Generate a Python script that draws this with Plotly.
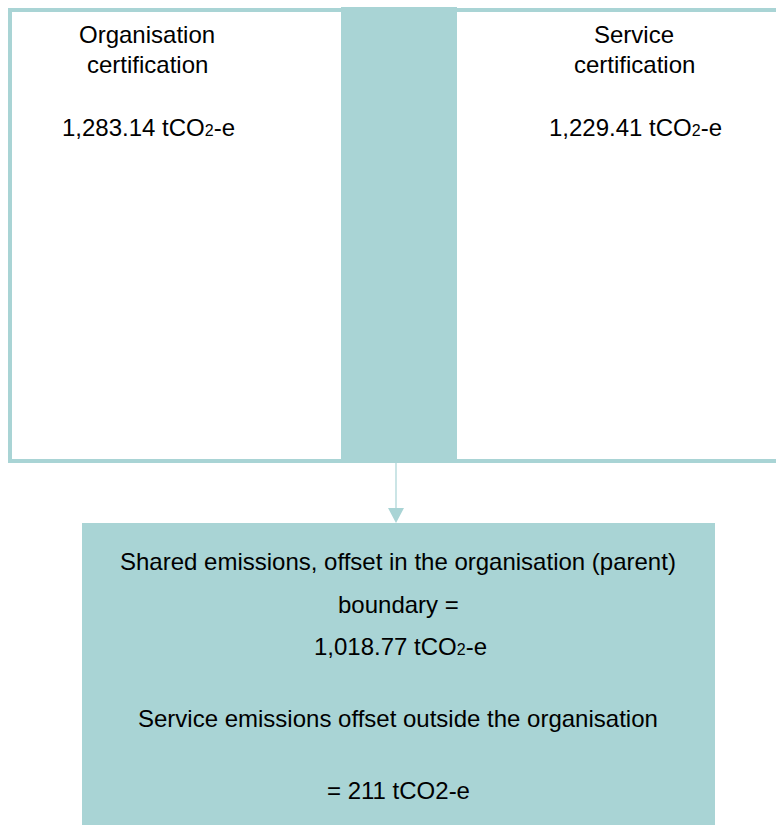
import plotly.graph_objects as go

# ---- data ----
cert_lines = [["Organisation", "certification"], ["Service", "certification"]]
cert_values = ["1,283.14", "1,229.41"]
shared_value = "1,018.77"
outside_value = "211"
unit_sub = "tCO<span style=\"font-size:16px\">2</span>-e"
unit_plain = "tCO2-e"

TEAL = "#A9D4D5"
FONT = dict(family="Arial, Liberation Sans, sans-serif", size=24, color="#000000")

W, H = 776, 825
fig = go.Figure()

shapes = []
# left and right certification boxes (outlined)
shapes.append(dict(type="rect", x0=10, x1=345, y0=10, y1=461,
                   line=dict(color=TEAL, width=4), fillcolor="rgba(0,0,0,0)", layer="below"))
shapes.append(dict(type="rect", x0=455, x1=800, y0=10, y1=461,
                   line=dict(color=TEAL, width=4), fillcolor="rgba(0,0,0,0)", layer="below"))
# shared column
shapes.append(dict(type="rect", x0=341, x1=457, y0=7, y1=463,
                   line=dict(width=0), fillcolor=TEAL, layer="below"))
# arrow
shapes.append(dict(type="line", x0=396, x1=396, y0=463, y1=509,
                   line=dict(color=TEAL, width=1.2)))
shapes.append(dict(type="path", path="M 388 508 L 404 508 L 396 523 Z",
                   line=dict(width=0), fillcolor=TEAL))
# bottom box
shapes.append(dict(type="rect", x0=82, x1=715, y0=523, y1=840,
                   line=dict(width=0), fillcolor=TEAL, layer="below"))

annotations = []
def add_text(x, y, text):
    annotations.append(dict(x=x, y=y, xref="x", yref="y", text=text, showarrow=False,
                            xanchor="center", yanchor="middle", font=FONT))

centers = [147, 634]
for cx, lines, val in zip(centers, cert_lines, cert_values):
    add_text(cx, 34, lines[0])
    add_text(cx, 64, lines[1])
    add_text(cx + 1, 127, f"{val} {unit_sub}")

add_text(398, 561, "Shared emissions, offset in the organisation (parent)")
add_text(398, 604, "boundary =")
add_text(400, 646, f"{shared_value} {unit_sub}")
add_text(398, 718, "Service emissions offset outside the organisation")
add_text(398, 790, f"= {outside_value} {unit_plain}")

fig.update_layout(
    width=W, height=H, margin=dict(l=0, r=0, t=0, b=0),
    paper_bgcolor="white", plot_bgcolor="white",
    xaxis=dict(range=[0, W], visible=False, fixedrange=True),
    yaxis=dict(range=[H, 0], visible=False, fixedrange=True),
    shapes=shapes, annotations=annotations, showlegend=False,
)
fig.write_html(
    "out.html",
    config={"displayModeBar": False},
    post_script="document.body.style.margin='0';document.documentElement.style.overflow='hidden';",
)
